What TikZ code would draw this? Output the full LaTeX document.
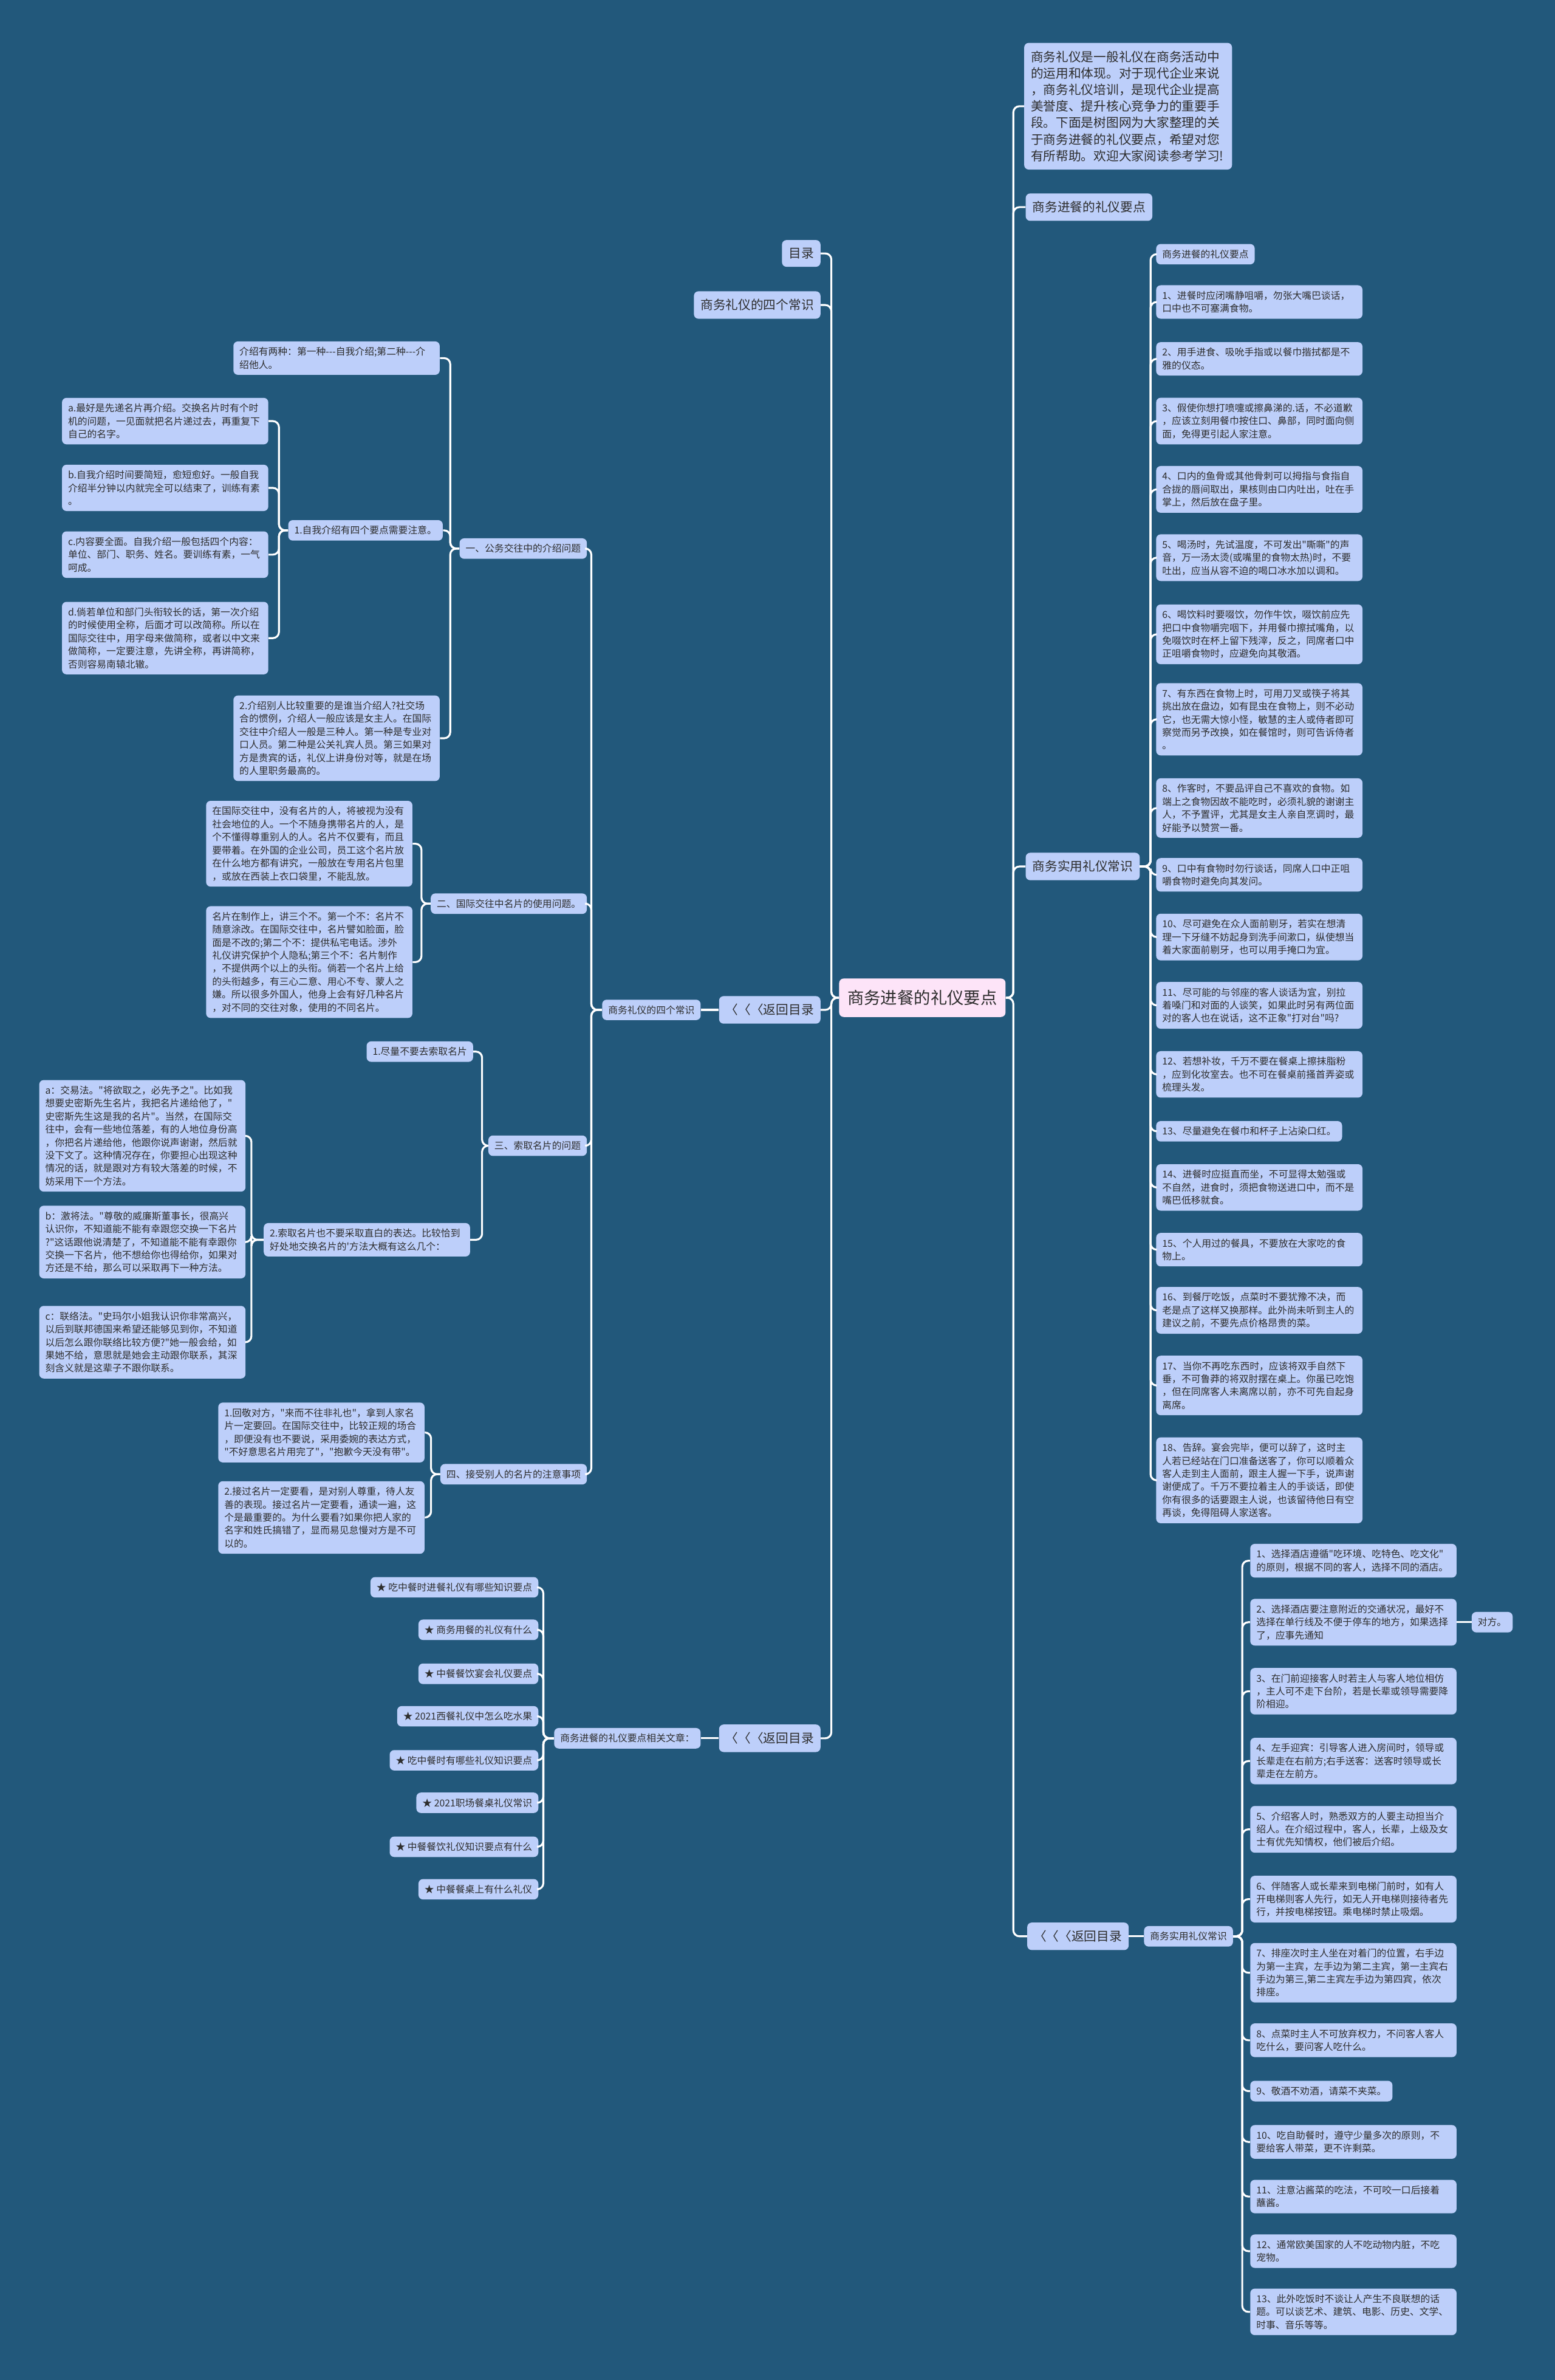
\documentclass[tikz,border=0pt]{standalone}
\usepackage{fontspec}
\newfontfamily\zhfont[Ligatures=TeXOff]{Noto Sans CJK SC}
\usepackage{tikz}
\usetikzlibrary{positioning}

\begin{document}
\begin{tikzpicture}[x=0.5mm, y=-0.5mm,
    box/.style={fill=boxblue, text=inkgrey, rounded corners=1.5mm, align=left},
    small/.style={box, font=\zhfont\fontsize{9}{12.2}\selectfont, inner xsep=2mm, inner ysep=1.9mm},
    big/.style={box, font=\zhfont\fontsize{11.8}{15.5}\selectfont, inner xsep=2.2mm, inner ysep=2.6mm},
    para/.style={small, text width=64mm},
    link/.style={draw=white, line width=1.8pt, rounded corners=2mm}]

    % 定义颜色
    \definecolor{bgblue}{RGB}{34, 88, 123}
    \definecolor{boxblue}{RGB}{189, 207, 250}
    \definecolor{rootpink}{RGB}{253, 228, 248}
    \definecolor{inkgrey}{RGB}{45, 45, 45}

    % 背景
    \path[use as bounding box, fill=bgblue] (0,0) rectangle (1025,1568.4);

    % 中心主题
    \node[box, fill=rootpink, font=\zhfont\fontsize{15.6}{18}\selectfont, inner xsep=2.75mm, inner ysep=3.8mm] (root) at (608,657.5) {商务进餐的礼仪要点};

    % 1. 右侧一级分支
    \node[big, text width=64.1mm, anchor=west] (intro) at (675,70) {商务礼仪是一般礼仪在商务活动中\\的运用和体现。对于现代企业来说\\，商务礼仪培训，是现代企业提高\\美誉度、提升核心竞争力的重要手\\段。下面是树图网为大家整理的关\\于商务进餐的礼仪要点，希望对您\\有所帮助。欢迎大家阅读参考学习!};
    \node[big, anchor=west] (yaodian) at (676,136.5) {商务进餐的礼仪要点};
    \node[big, anchor=west] (changshi) at (676,571) {商务实用礼仪常识};
    \node[big, anchor=west] (backR) at (677,1276) {〈〈〈返回目录};
    \foreach \n in {intro, yaodian, changshi, backR}
        \draw[link] (root.east) -- ++(5,0) |- (\n.west);

    % 2. 左侧一级分支
    \node[big, anchor=east] (mulu) at (541,167) {目录};
    \node[big, anchor=east] (sige) at (541,201) {商务礼仪的四个常识};
    \node[big, anchor=east] (backA) at (541,665.5) {〈〈〈返回目录};
    \node[big, anchor=east] (backB) at (541,1145.5) {〈〈〈返回目录};
    \foreach \n in {mulu, sige, backA, backB}
        \draw[link] (root.west) -- ++(-5,0) |- (\n.east);

    % 3. 商务礼仪的四个常识
    \node[small, anchor=east] (sigeS) at (462,665.5) {商务礼仪的四个常识};
    \draw[link] (backA.west) -- (sigeS.east);

    \node[small, anchor=east] (jieshao) at (387,361.5) {一、公务交往中的介绍问题};
    \node[small, anchor=east] (mingpian) at (387,595.5) {二、国际交往中名片的使用问题。};
    \node[small, anchor=east] (suoqu) at (387,755) {三、索取名片的问题};
    \node[small, anchor=east] (jieshou) at (387,971.5) {四、接受别人的名片的注意事项};
    \foreach \n in {jieshao, mingpian, suoqu, jieshou}
        \draw[link] (sigeS.west) -- ++(-7,0) |- (\n.east);

    % 一、介绍问题
    \node[para, anchor=east] (liangzhong) at (290,236) {介绍有两种：第一种---自我介绍;第二种---介\\绍他人。};
    \node[small, anchor=east] (ziwo) at (292,349.5) {1.自我介绍有四个要点需要注意。};
    \node[para, anchor=east] (bieren) at (290,486.5) {2.介绍别人比较重要的是谁当介绍人?社交场\\合的惯例，介绍人一般应该是女主人。在国际\\交往中介绍人一般是三种人。第一种是专业对\\口人员。第二种是公关礼宾人员。第三如果对\\方是贵宾的话，礼仪上讲身份对等，就是在场\\的人里职务最高的。};
    \foreach \n in {liangzhong, ziwo, bieren}
        \draw[link] (jieshao.west) -- ++(-6,0) |- (\n.east);

    \foreach \y/\t [count=\i] in {
        277.5/{a.最好是先递名片再介绍。交换名片时有个时\\机的问题，一见面就把名片递过去，再重复下\\自己的名字。},
        321.5/{b.自我介绍时间要简短，愈短愈好。一般自我\\介绍半分钟以内就完全可以结束了，训练有素\\。},
        365.5/{c.内容要全面。自我介绍一般包括四个内容：\\单位、部门、职务、姓名。要训练有素，一气\\呵成。},
        420.5/{d.倘若单位和部门头衔较长的话，第一次介绍\\的时候使用全称，后面才可以改简称。所以在\\国际交往中，用字母来做简称，或者以中文来\\做简称，一定要注意，先讲全称，再讲简称，\\否则容易南辕北辙。}} {
        \node[para, anchor=east] (ziwo\i) at (177,\y) {\t};
        \draw[link] (ziwo.west) -- ++(-6,0) |- (ziwo\i.east);
    }

    % 二、名片的使用
    \node[para, anchor=east] (meiyou) at (272,556) {在国际交往中，没有名片的人，将被视为没有\\社会地位的人。一个不随身携带名片的人，是\\个不懂得尊重别人的人。名片不仅要有，而且\\要带着。在外国的企业公司，员工这个名片放\\在什么地方都有讲究，一般放在专用名片包里\\，或放在西装上衣口袋里，不能乱放。};
    \node[para, anchor=east] (zhizuo) at (272,634) {名片在制作上，讲三个不。第一个不：名片不\\随意涂改。在国际交往中，名片譬如脸面，脸\\面是不改的;第二个不：提供私宅电话。涉外\\礼仪讲究保护个人隐私;第三个不：名片制作\\，不提供两个以上的头衔。倘若一个名片上给\\的头衔越多，有三心二意、用心不专、蒙人之\\嫌。所以很多外国人，他身上会有好几种名片\\，对不同的交往对象，使用的不同名片。};
    \foreach \n in {meiyou, zhizuo}
        \draw[link] (mingpian.west) -- ++(-6,0) |- (\n.east);

    % 三、索取名片
    \node[small, anchor=east] (buyao) at (312,693) {1.尽量不要去索取名片};
    \node[para, anchor=east] (zhibai) at (310,817) {2.索取名片也不要采取直白的表达。比较恰到\\好处地交换名片的'方法大概有这么几个：};
    \foreach \n in {buyao, zhibai}
        \draw[link] (suoqu.west) -- ++(-4,0) |- (\n.east);

    \foreach \y/\t [count=\i] in {
        748.5/{a：交易法。"将欲取之，必先予之"。比如我\\想要史密斯先生名片，我把名片递给他了，"\\史密斯先生这是我的名片"。当然，在国际交\\往中，会有一些地位落差，有的人地位身份高\\，你把名片递给他，他跟你说声谢谢，然后就\\没下文了。这种情况存在，你要担心出现这种\\情况的话，就是跟对方有较大落差的时候，不\\妨采用下一个方法。},
        818.5/{b：激将法。"尊敬的威廉斯董事长，很高兴\\认识你，不知道能不能有幸跟您交换一下名片\\?"这话跟他说清楚了，不知道能不能有幸跟你\\交换一下名片，他不想给你也得给你，如果对\\方还是不给，那么可以采取再下一种方法。},
        884.5/{c：联络法。"史玛尔小姐我认识你非常高兴，\\以后到联邦德国来希望还能够见到你，不知道\\以后怎么跟你联络比较方便?"她一般会给，如\\果她不给，意思就是她会主动跟你联系，其深\\刻含义就是这辈子不跟你联系。}} {
        \node[para, anchor=east] (fangfa\i) at (162,\y) {\t};
        \draw[link] (zhibai.west) -- ++(-8,0) |- (fangfa\i.east);
    }

    % 四、接受名片
    \node[para, anchor=east] (huijing) at (280,944) {1.回敬对方，"来而不往非礼也"，拿到人家名\\片一定要回。在国际交往中，比较正规的场合\\，即便没有也不要说，采用委婉的表达方式，\\"不好意思名片用完了"，"抱歉今天没有带"。};
    \node[para, anchor=east] (kan) at (280,1000) {2.接过名片一定要看，是对别人尊重，待人友\\善的表现。接过名片一定要看，通读一遍，这\\个是最重要的。为什么要看?如果你把人家的\\名字和姓氏搞错了，显而易见怠慢对方是不可\\以的。};
    \foreach \n in {huijing, kan}
        \draw[link] (jieshou.west) -- ++(-6,0) |- (\n.east);

    % 4. 相关文章
    \node[small, anchor=east] (wenzhang) at (462,1145.5) {商务进餐的礼仪要点相关文章：};
    \draw[link] (backB.west) -- (wenzhang.east);
    \foreach \y/\t [count=\i] in {1046/吃中餐时进餐礼仪有哪些知识要点, 1074/商务用餐的礼仪有什么,
        1103/中餐餐饮宴会礼仪要点, 1131/2021西餐礼仪中怎么吃水果, 1160/吃中餐时有哪些礼仪知识要点,
        1188/2021职场餐桌礼仪常识, 1217/中餐餐饮礼仪知识要点有什么, 1245/中餐餐桌上有什么礼仪} {
        \node[small, anchor=east] (wz\i) at (355,\y) {★ \t};
        \draw[link] (wenzhang.west) -- ++(-7,0) |- (wz\i.east);
    }

    % 5. 右侧：商务进餐的礼仪要点
    \node[small, anchor=west] (canyi0) at (762,167.5) {商务进餐的礼仪要点};
    \draw[link] (changshi.east) -- ++(7,0) |- (canyi0.west);
    \foreach \y/\s/\t [count=\i] in {
        199/para/{1、进餐时应闭嘴静咀嚼，勿张大嘴巴谈话，\\口中也不可塞满食物。},
        236.5/para/{2、用手进食、吸吮手指或以餐巾揩拭都是不\\雅的仪态。},
        277.5/para/{3、假使你想打喷嚏或擦鼻涕的.话，不必道歉\\，应该立刻用餐巾按住口、鼻部，同时面向侧\\面，免得更引起人家注意。},
        322.5/para/{4、口内的鱼骨或其他骨刺可以拇指与食指自\\合拢的唇间取出，果核则由口内吐出，吐在手\\掌上，然后放在盘子里。},
        367.5/para/{5、喝汤时，先试温度，不可发出"嘶嘶"的声\\音，万一汤太烫(或嘴里的食物太热)时，不要\\吐出，应当从容不迫的喝口冰水加以调和。},
        418/para/{6、喝饮料时要啜饮，勿作牛饮，啜饮前应先\\把口中食物嚼完咽下，并用餐巾擦拭嘴角，以\\免啜饮时在杯上留下残滓，反之，同席者口中\\正咀嚼食物时，应避免向其敬酒。},
        474/para/{7、有东西在食物上时，可用刀叉或筷子将其\\挑出放在盘边，如有昆虫在食物上，则不必动\\它，也无需大惊小怪，敏慧的主人或侍者即可\\察觉而另予改换，如在餐馆时，则可告诉侍者\\。},
        532.5/para/{8、作客时，不要品评自己不喜欢的食物。如\\端上之食物因故不能吃时，必须礼貌的谢谢主\\人，不予置评，尤其是女主人亲自烹调时，最\\好能予以赞赏一番。},
        576.5/para/{9、口中有食物时勿行谈话，同席人口中正咀\\嚼食物时避免向其发问。},
        617.5/para/{10、尽可避免在众人面前剔牙，若实在想清\\理一下牙缝不妨起身到洗手间漱口，纵使想当\\着大家面前剔牙，也可以用手掩口为宜。},
        662.5/para/{11、尽可能的与邻座的客人谈话为宜，别拉\\着嗓门和对面的人谈笑，如果此时另有两位面\\对的客人也在说话，这不正象"打对台"吗?},
        708/para/{12、若想补妆，千万不要在餐桌上擦抹脂粉\\，应到化妆室去。也不可在餐桌前搔首弄姿或\\梳理头发。},
        745.5/small/{13、尽量避免在餐巾和杯子上沾染口红。},
        782.5/para/{14、进餐时应挺直而坐，不可显得太勉强或\\不自然，进食时，须把食物送进口中，而不是\\嘴巴低移就食。},
        823.5/para/{15、个人用过的餐具，不要放在大家吃的食\\物上。},
        863.5/para/{16、到餐厅吃饭，点菜时不要犹豫不决，而\\老是点了这样又换那样。此外尚未听到主人的\\建议之前，不要先点价格昂贵的菜。},
        913/para/{17、当你不再吃东西时，应该将双手自然下\\垂，不可鲁莽的将双肘摆在桌上。你虽已吃饱\\，但在同席客人未离席以前，亦不可先自起身\\离席。},
        975.5/para/{18、告辞。宴会完毕，便可以辞了，这时主\\人若已经站在门口准备送客了，你可以顺着众\\客人走到主人面前，跟主人握一下手，说声谢\\谢便成了。千万不要拉着主人的手谈话，即使\\你有很多的话要跟主人说，也该留待他日有空\\再谈，免得阻碍人家送客。}} {
        \node[\s, anchor=west] (canyi\i) at (762,\y) {\t};
        \draw[link] (changshi.east) -- ++(7,0) |- (canyi\i.west);
    }

    % 6. 右下：商务实用礼仪常识
    \node[small, anchor=west] (shiyong) at (754,1276) {商务实用礼仪常识};
    \draw[link] (backR.east) -- (shiyong.west);
    \foreach \y/\s/\t [count=\i] in {
        1028.5/para/{1、选择酒店遵循"吃环境、吃特色、吃文化"\\的原则，根据不同的客人，选择不同的酒店。},
        1069/para/{2、选择酒店要注意附近的交通状况，最好不\\选择在单行线及不便于停车的地方，如果选择\\了，应事先通知},
        1114.5/para/{3、在门前迎接客人时若主人与客人地位相仿\\，主人可不走下台阶，若是长辈或领导需要降\\阶相迎。},
        1160.5/para/{4、左手迎宾：引导客人进入房间时，领导或\\长辈走在右前方;右手送客：送客时领导或长\\辈走在左前方。},
        1205.5/para/{5、介绍客人时，熟悉双方的人要主动担当介\\绍人。在介绍过程中，客人，长辈，上级及女\\士有优先知情权，他们被后介绍。},
        1251.5/para/{6、伴随客人或长辈来到电梯门前时，如有人\\开电梯则客人先行，如无人开电梯则接待者先\\行，并按电梯按钮。乘电梯时禁止吸烟。},
        1300/para/{7、排座次时主人坐在对着门的位置，右手边\\为第一主宾，左手边为第二主宾，第一主宾右\\手边为第三,第二主宾左手边为第四宾，依次\\排座。},
        1344.5/para/{8、点菜时主人不可放弃权力，不问客人客人\\吃什么，要问客人吃什么。},
        1378/small/{9、敬酒不劝酒，请菜不夹菜。},
        1411.5/para/{10、吃自助餐时，遵守少量多次的原则，不\\要给客人带菜，更不许剩菜。},
        1447.5/para/{11、注意沾酱菜的吃法，不可咬一口后接着\\蘸酱。},
        1483.5/para/{12、通常欧美国家的人不吃动物内脏，不吃\\宠物。},
        1523.5/para/{13、此外吃饭时不谈让人产生不良联想的话\\题。可以谈艺术、建筑、电影、历史、文学、\\时事、音乐等等。}} {
        \node[\s, anchor=west] (shiyong\i) at (824,\y) {\t};
        \draw[link] (shiyong.east) -- ++(6,0) |- (shiyong\i.west);
    }
    \node[small, anchor=west] (duifang) at (970,1069) {对方。};
    \draw[link] (shiyong2.east) -- (duifang.west);

\end{tikzpicture}
\end{document}
